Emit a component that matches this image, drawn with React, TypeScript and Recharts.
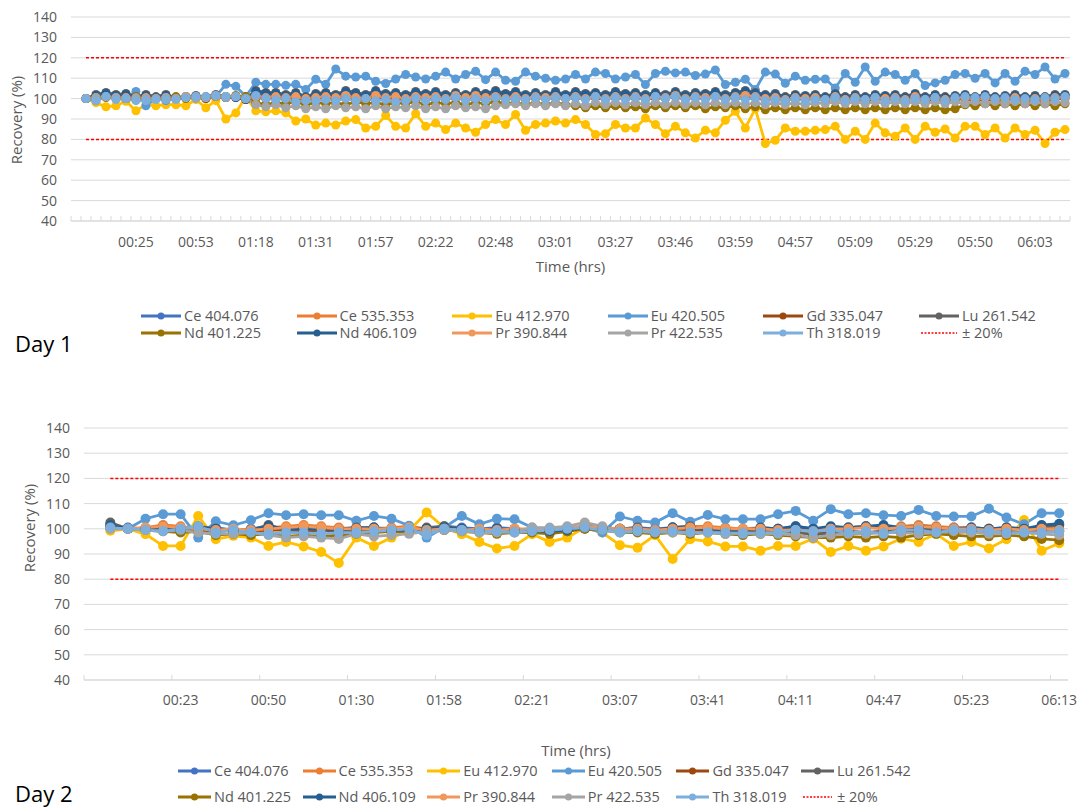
import React from 'react'
import { LineChart, Line, XAxis, YAxis, CartesianGrid } from 'recharts'

const seriesNames = ['Ce 404.076', 'Ce 535.353', 'Eu 412.970', 'Eu 420.505', 'Gd 335.047', 'Lu 261.542', 'Nd 401.225', 'Nd 406.109', 'Pr 390.844', 'Pr 422.535', 'Th 318.019']
const seriesColors = ['#4472C4', '#ED7D31', '#FFC000', '#5B9BD5', '#9E480E', '#636363', '#997300', '#255E91', '#F1975A', '#A5A5A5', '#7CAFDD']
const limitName = '± 20%'
const limitHigh = 120
const limitLow = 80
const yTicks = [40, 50, 60, 70, 80, 90, 100, 110, 120, 130, 140]

// Day 1: 100 slots on the time axis, slot 0 is empty, a label every 6th slot
const day1Slots = 100
const day1LabelEvery = 6
const day1Labels = ['00:25', '00:53', '01:18', '01:31', '01:57', '02:22', '02:48', '03:01', '03:27', '03:46', '03:59', '04:57', '05:09', '05:29', '05:50', '06:03']

const d1Ce404 = [100, 101, 102, 101, 101.5, 100.5, 101, 100.5, 101, 100.5,
  101, 101, 100.5, 101.5, 101, 101, 100, 102, 101.5, 102,
  101, 102, 100.5, 101.5, 102, 101, 102.5, 101.5, 101, 102.5,
  101.5, 102, 101, 102, 101.5, 102, 101, 102, 101.5, 102.5,
  101.5, 102.5, 101.5, 102, 101, 102, 101.5, 102, 101.5, 102,
  101.5, 102, 101, 102, 101.5, 102, 101, 102, 101.5, 102.5,
  101, 102, 101.5, 102.5, 101, 102, 102.5, 102, 101, 101.5,
  100.5, 101.5, 101, 101.5, 100.5, 102, 100.5, 101.5, 100.5, 101.5,
  101, 101.5, 100.5, 102, 100.5, 101.5, 100.5, 101, 101.5, 100.5,
  101.5, 100.5, 101, 101.5, 100.5, 101, 100.5, 101.5, 101.5]
const d1Ce535 = [100, 100.5, 101, 100.5, 100.5, 100, 100.5, 100, 100.5, 100,
  100.5, 100.5, 100, 101, 100.5, 100.5, 99.5, 101, 100.5, 101,
  100, 101, 99.5, 100.5, 101, 100, 101.5, 100.5, 100, 101.5,
  100.5, 101, 100, 101, 100.5, 101, 100, 101.5, 100.5, 101.5,
  100.5, 101.5, 100.5, 101, 100, 101, 100.5, 101, 100.5, 101,
  100.5, 101, 100, 101, 100.5, 101, 100, 101, 100.5, 101.5,
  100, 101, 100.5, 101.5, 100, 101, 101.5, 101, 100, 100.5,
  99.5, 100.5, 100, 100.5, 99.5, 101, 99.5, 100.5, 99.5, 100.5,
  100, 100.5, 99.5, 101, 99.5, 100.5, 99.5, 100, 100.5, 99.5,
  100.5, 99.5, 100, 100.5, 99.5, 100, 99.5, 100.5, 100.5]
const d1Eu412 = [100, 98, 96, 96.5, 98.7, 94, 97, 96.5, 97, 97, 96.5, 99.5, 95.5, 99,
  90, 93, 101, 94, 93.5, 94, 93, 89, 90, 87,
  88, 87, 89, 89.7, 85.6, 86.4, 91.7, 86.4, 85.6, 92.6, 86.4, 88, 84.8, 88, 85.6, 83.5, 87.3, 89.7, 87.3, 92.2, 84.5, 87.3, 88, 89, 88,
  89.7, 87.3, 82.4, 82.8, 87.3, 85.6, 85.6, 90.5, 87.3, 82.8, 86.4, 83.2, 80.7, 84.5, 83.2, 89.4, 93.8, 85.6, 95, 78, 79.6, 85.6, 84, 84, 84.5,
  84.8, 86.4, 80, 84, 80, 88, 83.2, 81.5, 85.6, 80, 86.4, 83.5, 85.1, 80.7, 86.4, 86.4, 82.4, 85.6, 80.7, 85.6, 82.4, 84.5, 78, 83.5, 84.8]
const d1Eu420 = [100, 99, 101, 100, 100, 103.5, 96.5, 100, 99, 100, 101, 101, 100, 101,
  107, 106, 101, 108, 107, 107, 106.5, 107, 104.5, 109.5,
  107, 114.5, 111, 110.6, 111, 108.5, 107.4, 109.6, 111.8, 110.6, 109.6, 111, 113, 109.6, 111.8, 113.4, 109.3, 113, 109, 108.5, 113, 111, 110, 109, 109.6,
  111.8, 109.6, 113, 112.3, 109.6, 110.6, 111.8, 106.9, 112.3, 113.4, 112.6, 113, 111.3, 112, 114, 106.9, 108, 109.5, 104.4, 113, 112, 107.5, 111, 109, 109.5,
  109.6, 105.2, 112.3, 108, 115.5, 108.5, 113, 111.8, 109, 112.3, 106.4, 107.7, 109, 111.8, 112.3, 110, 112.3, 107.7, 112.3, 108.5, 113.4, 111.8, 115.5, 109.6, 112.3]
const d1Gd = [100, 100.5, 101, 100.5, 100, 100, 100.5, 100, 100, 100,
  100.5, 100.5, 100, 101, 100.5, 100.5, 99.5, 100.5, 100, 100.5,
  100, 100.5, 99.5, 100, 100.5, 100, 101, 100, 99.5, 101,
  100, 100.5, 99.5, 100.5, 100, 100.5, 99.5, 100.5, 100, 101,
  100, 101, 100, 100.5, 99.5, 100.5, 100, 100.5, 100, 100.5,
  100, 100.5, 99.5, 100.5, 100, 100.5, 99.5, 100.5, 100, 101,
  99.5, 100.5, 100, 101, 99.5, 100.5, 101, 100.5, 99.5, 100,
  99, 100, 99.5, 100, 99, 100.5, 99, 100, 99, 100,
  99.5, 100, 99, 100.5, 99, 100, 99, 99.5, 100, 99,
  100, 99, 99.5, 100, 99, 99.5, 99, 100, 100]
const d1Lu = [100, 102, 103, 102, 102.5, 101, 102, 101, 102, 100.5, 101, 101.5, 101, 102, 101, 101, 100, 104, 103, 103, 102, 103, 101, 102.5,
  103, 102, 104, 103, 102, 104, 102.5, 103, 102, 103.5, 102.5, 103.5, 102, 103, 102, 103.5, 102.5, 104, 102.5, 103.5, 102, 103, 102, 103.5, 102,
  103.5, 102.5, 103, 102, 103.5, 102.5, 103, 102, 103, 102, 103.5, 102, 103, 102.5, 103.5, 102, 103, 104, 103, 102, 102.5, 101, 102, 101.5, 102,
  101, 102.5, 101, 102, 101, 102, 101.5, 102, 101, 102.5, 101, 102, 101, 101.5, 102, 101, 102, 101, 101.5, 102, 101, 101.5, 101, 102, 102]
const d1Nd401 = [100, 101, 100.5, 101, 100, 101, 100, 100.5, 100, 101, 100, 101, 100.5, 101, 101, 101.5, 101,
  98, 97, 98, 97.5, 98.5, 97, 98, 97.5, 98, 97, 98.5, 97.5, 98, 97, 98, 97.5, 98.5, 97, 98, 97.5, 98, 97, 98, 97.5, 98.5, 97.5, 98, 97, 98, 97, 98, 97,
  96.5, 95.5, 96.5, 95.5, 96.5, 95.5, 96, 95, 96.5, 95.5, 96.5, 95.5, 96.5, 95, 96, 95.5, 96.5, 95, 96, 94.5,
  95.5, 94.5, 95.5, 94.5, 95.5, 94.5, 95.5, 94.5, 95.5, 94.5, 95.5, 94.5, 95.5, 94.5, 95.5, 94.5, 95.5, 94.5, 95,
  97, 96.5, 97.5, 96.5, 97.5, 96.5, 97.5, 96.5, 97.5, 96.5, 97.5]
const d1Nd406 = [100, 101.5, 102.5, 101.5, 102, 100.5, 101.5, 100.5, 101.5, 100,
  100.5, 101, 100.5, 101.5, 100.5, 100.5, 99.5, 103.5, 102.5, 102.5,
  101.5, 102.5, 100.5, 102, 102.5, 101.5, 103.5, 102.5, 101.5, 103.5,
  102, 102.5, 101.5, 103, 102, 103, 101.5, 102.5, 101.5, 103,
  102, 103.5, 102, 103, 101.5, 102.5, 101.5, 103, 101.5, 103,
  102, 102.5, 101.5, 103, 102, 102.5, 101.5, 102.5, 101.5, 103,
  101.5, 102.5, 102, 103, 101.5, 102.5, 103.5, 102.5, 101.5, 102,
  100.5, 101.5, 101, 101.5, 100.5, 102, 100.5, 101.5, 100.5, 101.5,
  101, 101.5, 100.5, 102, 100.5, 101.5, 100.5, 101, 101.5, 100.5,
  101.5, 100.5, 101, 101.5, 100.5, 101, 100.5, 101.5, 101.5]
const d1Pr390 = [100, 100.5, 101, 100.5, 100.5, 100, 100.5, 100, 100.5, 100,
  101, 101, 100.5, 101.5, 101, 101, 100, 101, 100.5, 101,
  100.5, 101, 100, 100.5, 101, 100.5, 101.5, 100.5, 100, 101.5,
  100.5, 101, 100, 101, 100.5, 101, 100, 101.5, 100.5, 101.5,
  100.5, 101, 100, 101, 100, 101, 100.5, 101, 100, 101,
  100, 101, 100, 101, 100, 101, 100, 101, 100.5, 101.5,
  100, 101, 100.5, 101, 100, 101, 101.5, 101, 100, 100.5,
  99.5, 100.5, 100, 100.5, 99.5, 101, 99.5, 100.5, 99.5, 100.5,
  100, 100.5, 99.5, 101, 99.5, 100.5, 99.5, 100, 100.5, 99.5,
  100.5, 99.5, 100, 100.5, 99.5, 100, 99.5, 100.5, 100.5]
const d1Pr422 = [100, 100.5, 101, 100.5, 100, 100.5, 100, 100, 100.5, 100, 100.5, 100, 100.5, 101, 100.5, 101, 100,
  97, 96, 97, 95.5, 96.5, 95, 96, 95, 96.5, 95.5, 96, 95, 96.5, 95, 96, 95.5, 96.5, 95, 96, 95, 96.5, 95.5, 96, 95, 96.5, 97, 97.5, 96.5, 97.5, 96.5, 97.5, 96.5,
  97.5, 96.5, 98, 97, 98, 97, 98, 97, 98, 97, 98, 97, 98, 97, 98, 97, 98, 97, 98, 97,
  98, 97, 98, 97, 98, 97.5, 98.5, 97.5, 98.5, 97.5, 98.5, 97.5, 98.5, 97.5, 98.5, 97.5, 98.5, 97.5, 98.5, 97.5,
  98.5, 97.5, 98.5, 97.5, 98.5, 97.5, 98.5, 97.5, 98.5, 98]
const d1Th = [100, 99, 101, 99.5, 100, 99, 99, 99.5, 99.5, 99.5, 100.5, 101, 101, 101.5, 101, 101, 100, 101.5, 100, 99.5, 100, 98.5, 99, 99,
  99.5, 99, 100, 99, 100, 99, 99.5, 98.5, 99, 100, 99, 100, 99.5, 100.5, 99, 100, 99, 100.5, 99.5, 100, 99.5, 100.5, 99.5, 100.5, 100,
  100.5, 99.5, 101, 99.5, 100.5, 99.5, 100.5, 99.5, 101, 100, 101, 99.5, 100.5, 99.5, 101, 99.5, 100.5, 99.5, 100.5, 99, 99.5, 99, 100, 99, 99.5,
  99.5, 100.5, 99, 100, 99.5, 100.5, 99, 100, 99, 100, 99.5, 100.5, 99, 100.5, 101, 100.5, 101, 100, 100.5, 99.5, 100, 99.5, 100.5, 100, 101]

// Day 2: 56 slots, slot 0 is empty, a label every 5th slot
const day2Slots = 56
const day2LabelEvery = 5
const day2Labels = ['00:23', '00:50', '01:30', '01:58', '02:21', '03:07', '03:41', '04:11', '04:47', '05:23', '06:13']

const d2Ce404 = [101, 100.5, 100, 100.5, 100, 100.5, 100.5, 99.5, 100, 101,
  100, 100.5, 100, 100, 100.5, 100.5, 100, 99.5, 100, 101,
  100.5, 100, 100.5, 100, 99.5, 99.5, 100, 100.5, 100.5, 100,
  100.5, 100, 100.5, 101, 100.5, 100, 99.5, 100, 100, 101,
  100, 100.5, 100.5, 101, 101, 100.5, 100.5, 100, 100.5, 100.5,
  100, 100.5, 100, 101, 101.5]
const d2Ce535 = [100, 100, 100.5, 101.5, 101, 100, 99.5, 100, 99.5, 100.5,
  101, 101.5, 101, 100.5, 100, 100, 100.5, 101, 100, 100,
  99.5, 100, 99.5, 100, 99.5, 99.5, 100.5, 101, 100.5, 100,
  100, 99.5, 100.5, 101, 101, 100.5, 100, 100.5, 100, 99.5,
  99.5, 100.5, 100.5, 101, 100.5, 101, 101.5, 101, 100.5, 100.5,
  100, 100.5, 100, 100.5, 100]
const d2Eu412 = [99.2, 100, 97.9, 93.2, 93.2, 105.1, 95.9, 97.2, 96.5, 93.2, 94.8, 93, 90.8, 86.4, 96.5,
  93.2, 96.5, 99.2, 106.5, 100.5, 97.9, 94.8, 92.2, 93.2, 97.9, 94.8, 96.5, 100.5, 98.5, 93.5, 92.5, 97.5, 88, 95.9, 95,
  93, 93, 91.3, 93.2, 93.2, 96.1, 90.8, 93.2, 91.3, 93, 96.1, 94.8, 97.9, 93.2, 94.8, 92.2, 95.9, 103.5, 91.3, 94.3]
const d2Eu420 = [100.5, 100, 104, 105.8, 105.8, 96.5, 103, 101.4, 103.4, 106.2, 105.4, 105.8, 105.4, 105.4, 103.2,
  105.1, 104, 101.2, 96.5, 100.5, 105.1, 101.8, 104, 103.8, 100.5, 100, 100, 100.5, 98.5, 104.9, 103.2, 102.5, 106.2, 102.8, 105.5,
  103.8, 103.8, 103.8, 105.8, 107.1, 103.2, 107.8, 105.8, 106.2, 105.4, 105.1, 107.5, 105.1, 104.9, 104.9, 108, 104.5, 101.8, 106.2, 106.2]
const d2Gd = [101, 100, 100, 99.5, 100, 99.5, 99, 99.5, 99, 99.5,
  99.5, 99, 99.5, 99, 99.5, 99.5, 99, 99.5, 100, 99.5,
  99.5, 99, 99.5, 99, 99, 98.5, 99.5, 100, 100, 99.5,
  99.5, 99, 99.5, 99.5, 99, 99, 98.5, 99, 99, 98.5,
  98, 98.5, 99, 98.5, 99, 98.5, 99, 99, 98.5, 99,
  99, 98.5, 99, 99.5, 99]
const d2Lu = [102.5, 100, 100, 101, 99, 101, 100, 99, 99.5, 101.5,
  99.5, 100, 99.5, 100, 100.5, 100.5, 99, 99.5, 100.5, 101,
  100, 99.5, 100, 99.5, 99, 98.5, 99, 101, 100.5, 100,
  100.5, 99.5, 100.5, 101, 99.5, 99, 98.5, 99.5, 99, 99,
  97.5, 98.5, 99, 98.5, 99, 99.5, 100.5, 99.5, 99, 100,
  99.5, 99, 99.5, 101, 101.5]
const d2Nd401 = [101.5, 100, 99.5, 99, 98.5, 99, 97.5, 98, 97.5, 98,
  97, 97.5, 97, 97.5, 98, 98.5, 99, 98.5, 99, 99.5,
  99, 98.5, 98, 98.5, 98.5, 98, 99, 100, 99.5, 98.5,
  98.5, 98, 98.5, 98, 98.5, 98, 97.5, 98, 97.5, 97,
  96.5, 96.5, 97, 96.5, 97, 96.5, 97.5, 98, 97.5, 97,
  97, 97.5, 97, 96, 95.5]
const d2Nd406 = [101.5, 100, 100, 100.5, 99.5, 100.5, 100, 99.5, 99.5, 101,
  100, 100, 100, 99.5, 100, 100.5, 99.5, 99.5, 100, 100.5,
  100, 99.5, 100, 99.5, 99, 99, 99.5, 100.5, 100.5, 100,
  100, 99.5, 100.5, 100.5, 100, 99.5, 99.5, 100.5, 100, 101,
  100, 101, 100.5, 101, 101.5, 100.5, 101, 100.5, 100, 100.5,
  100, 100.5, 100, 101.5, 102]
const d2Pr390 = [100, 100, 100.5, 101, 100.5, 100, 99.5, 100, 99.5, 100,
  100.5, 101, 100.5, 100, 100, 100, 100, 100.5, 99.5, 100,
  99.5, 100, 99.5, 100, 100, 100, 100.5, 101, 100.5, 100,
  100, 99.5, 100, 100.5, 100.5, 100, 100, 100, 99.5, 99.5,
  99, 100, 100, 100.5, 100, 100.5, 101, 100.5, 100, 100,
  99.5, 100, 99.5, 100, 99.5]
const d2Pr422 = [100, 100, 99.5, 99, 99.5, 98.5, 98, 98, 98.5, 97.5,
  96.5, 97, 96.5, 96, 98, 97, 97.5, 98, 99, 99.5,
  99, 98.5, 98.5, 99, 100.5, 100.5, 101, 102.5, 101, 99,
  99.5, 99, 98.5, 98.5, 98.5, 98, 98.5, 98, 98, 97.5,
  96.5, 97.5, 98, 98, 98.5, 98.5, 98, 98.5, 99, 98.5,
  98, 98, 98.5, 98, 97.5]
const d2Th = [100.5, 100, 99.5, 99, 100, 101, 98.5, 99.5, 98.5, 98,
  98.5, 98.5, 98, 98.5, 98.5, 99, 99.5, 100, 97.5, 100,
  99.5, 99, 99, 98.5, 99, 99.5, 100, 100.5, 99.5, 98.5,
  99, 98.5, 99, 98.5, 98.5, 98.5, 98, 98.5, 98.5, 99.5,
  99, 99.5, 98.5, 99, 98, 99.5, 99.5, 98.5, 99.5, 99.5,
  99, 98.5, 98.5, 98.5, 99]

const day1Series = [d1Ce404, d1Ce535, d1Eu412, d1Eu420, d1Gd, d1Lu, d1Nd401, d1Nd406, d1Pr390, d1Pr422, d1Th]
const day2Series = [d2Ce404, d2Ce535, d2Eu412, d2Eu420, d2Gd, d2Lu, d2Nd401, d2Nd406, d2Pr390, d2Pr422, d2Th]

const GRID = '#d9d9d9'
const TEXT = '#595959'

function buildRows(slots: number, series: number[][]) {
  const rows: any[] = []
  for (let k = 0; k < slots; k++) {
    const row: any = { slot: k }
    series.forEach((vals, s) => {
      row['s' + s] = k === 0 ? null : vals[k - 1] ?? null
    })
    row.hi = k === 0 ? null : limitHigh
    row.lo = k === 0 ? null : limitLow
    rows.push(row)
  }
  return rows
}

// Excel-like category ticks: marks on slot boundaries, labels on slot centres
function makeTick(labels: string[], labelEvery: number, markEvery: number, band: number, lastSlot: number, labelDy: number) {
  return (props: any) => {
    const { x, y, payload } = props
    const k = Number(payload.value)
    const left = x - band / 2
    const label = k > 0 && k % labelEvery === 0 ? labels[k / labelEvery - 1] : ''
    return (
      <g>
        {k % markEvery === 0 && <line x1={left} x2={left} y1={y} y2={y - 5} stroke={GRID} />}
        {k === lastSlot && markEvery === 1 && <line x1={left + band} x2={left + band} y1={y} y2={y - 5} stroke={GRID} />}
        {label && (
          <text x={x} y={y + labelDy} dy="0.35em" textAnchor="middle" fontSize={14} fill={TEXT}>
            {label}
          </text>
        )}
      </g>
    )
  }
}

function XTitle(props: any) {
  return (
    <text x={props.cx} y={props.cy} dy="0.35em" textAnchor="middle" fontSize={15} fill={TEXT}>
      Time (hrs)
    </text>
  )
}

function YTitle(props: any) {
  return (
    <text x={props.cx} y={props.cy} dy="0.35em" textAnchor="middle" fontSize={15} fill={TEXT}
      transform={`rotate(-90 ${props.cx} ${props.cy})`}>
      Recovery (%)
    </text>
  )
}

interface PanelProps {
  top: number
  height: number
  series: number[][]
  slots: number
  labels: string[]
  labelEvery: number
  markEvery: number
  plotLeft: number
  plotRight: number
  plotTop: number
  plotBottom: number
  labelDy: number
  xTitleY: number
  yTitleX: number
  yTitleY: number
  dotR: number
}

function Panel(p: PanelProps) {
  const data = buildRows(p.slots, p.series)
  const band = (p.plotRight - p.plotLeft) / p.slots
  const tick = makeTick(p.labels, p.labelEvery, p.markEvery, band, p.slots - 1, p.labelDy)
  return (
    <div style={{ position: 'absolute', left: 0, top: p.top }}>
      <LineChart
        width={1080}
        height={p.height}
        data={data}
        margin={{ top: p.plotTop, right: 1080 - p.plotRight, left: 0, bottom: 0 }}
      >
        <CartesianGrid stroke={GRID} vertical={false} />
        <XAxis
          dataKey="slot"
          type="category"
          interval={0}
          height={p.height - p.plotBottom}
          padding={{ left: band / 2, right: band / 2 }}
          axisLine={{ stroke: GRID }}
          tickLine={false}
          tickSize={0}
          tickMargin={0}
          tick={tick}
          label={<XTitle cx={(p.plotLeft + p.plotRight) / 2} cy={p.xTitleY} />}
        />
        <YAxis
          type="number"
          domain={[40, 140]}
          ticks={yTicks}
          interval={0}
          width={p.plotLeft}
          axisLine={false}
          tickLine={false}
          tickSize={0}
          tickMargin={14}
          tick={{ fontSize: 14, fill: TEXT }}
          label={<YTitle cx={p.yTitleX} cy={p.yTitleY} />}
        />
        {seriesNames.map((name, i) => (
          <Line
            key={name}
            name={name}
            dataKey={'s' + i}
            stroke={seriesColors[i]}
            strokeWidth={2.8}
            dot={{ r: p.dotR, fill: seriesColors[i], stroke: seriesColors[i], strokeWidth: 0 }}
            activeDot={false}
            isAnimationActive={false}
          />
        ))}
        <Line name={limitName} dataKey="hi" stroke="#FF0000" strokeWidth={1.5} strokeDasharray="3 2" dot={false} activeDot={false} isAnimationActive={false} />
        <Line name={limitName} dataKey="lo" stroke="#FF0000" strokeWidth={1.5} strokeDasharray="3 2" dot={false} activeDot={false} isAnimationActive={false} />
      </LineChart>
    </div>
  )
}

function LegendBlock({ left, top, colWidth, rowGap, lineLen }: { left: number; top: number; colWidth: number; rowGap: number; lineLen: number }) {
  const items = [...seriesNames.map((n, i) => ({ name: n, color: seriesColors[i], dashed: false })), { name: limitName, color: '#FF0000', dashed: true }]
  return (
    <div style={{ position: 'absolute', left, top }}>
      {items.map((it, i) => (
        <div
          key={it.name}
          style={{
            position: 'absolute',
            left: (i % 6) * colWidth,
            top: Math.floor(i / 6) * rowGap,
            height: 18,
            display: 'flex',
            alignItems: 'center',
            whiteSpace: 'nowrap',
          }}
        >
          <svg width={lineLen} height={10}>
            {it.dashed ? (
              <line x1={2} x2={lineLen - 2} y1={5} y2={5} stroke={it.color} strokeWidth={1.5} strokeDasharray="2 1.5" />
            ) : (
              <>
                <line x1={0} x2={lineLen} y1={5} y2={5} stroke={it.color} strokeWidth={3} />
                <circle cx={lineLen / 2} cy={5} r={3.5} fill={it.color} />
              </>
            )}
          </svg>
          <span style={{ marginLeft: 3, fontSize: 14.5, color: TEXT, lineHeight: '18px' }}>{it.name}</span>
        </div>
      ))}
    </div>
  )
}

export default function App() {
  return (
    <div style={{ position: 'absolute', left: 0, top: 0, width: 1080, height: 807, background: '#fff', fontFamily: '"Open Sans", sans-serif', overflow: 'hidden' }}>
      <Panel
        top={0}
        height={290}
        series={day1Series}
        slots={day1Slots}
        labels={day1Labels}
        labelEvery={day1LabelEvery}
        markEvery={1}
        plotLeft={71}
        plotRight={1070}
        plotTop={17}
        plotBottom={221}
        labelDy={21}
        xTitleY={267}
        yTitleX={17}
        yTitleY={120}
        dotR={4.5}
      />
      <LegendBlock left={141} top={307} colWidth={155.6} rowGap={17} lineLen={40} />
      <div style={{ position: 'absolute', left: 15, top: 331, fontSize: 22, lineHeight: '24px', color: '#000' }}>Day 1</div>

      <Panel
        top={410}
        height={350}
        series={day2Series}
        slots={day2Slots}
        labels={day2Labels}
        labelEvery={day2LabelEvery}
        markEvery={day2LabelEvery}
        plotLeft={84}
        plotRight={1068}
        plotTop={18}
        plotBottom={270}
        labelDy={20}
        xTitleY={341}
        yTitleX={30}
        yTitleY={118}
        dotR={5}
      />
      <LegendBlock left={178} top={762} colWidth={124.6} rowGap={26} lineLen={33} />
      <div style={{ position: 'absolute', left: 15, top: 781, fontSize: 22, lineHeight: '24px', color: '#000' }}>Day 2</div>
    </div>
  )
}
